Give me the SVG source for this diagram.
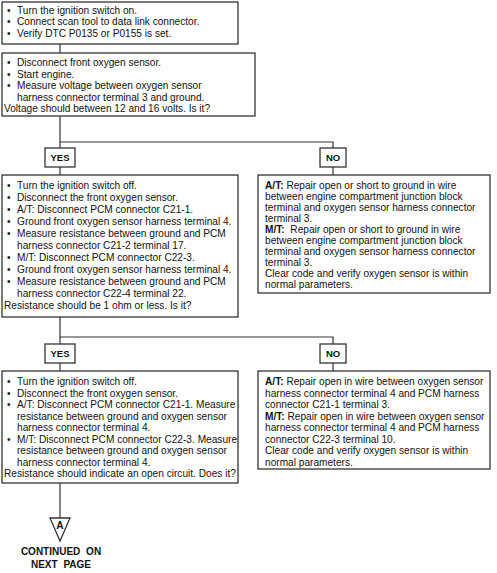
<svg xmlns="http://www.w3.org/2000/svg" width="497" height="573" viewBox="0 0 497 573">
<style>
.box{fill:#fff;stroke:#333;stroke-width:1.3}
.lbl{fill:#fff;stroke:#333;stroke-width:1.3}
.ln{fill:none;stroke:#333;stroke-width:1.2}
text{font-family:"Liberation Sans",Arial,sans-serif;font-size:10.15px;fill:#111}
.b{font-weight:bold}
.yn{font-weight:bold;font-size:9.5px;text-anchor:middle}
.ct{font-weight:bold;font-size:10px;text-anchor:middle;word-spacing:3px}
</style>
<rect width="497" height="573" fill="#fff"/>
<g id="connectors">
<path class="ln" d="M60,44V53"/>
<path class="ln" d="M60,116V142H333V148"/>
<path class="ln" d="M60,148V142"/>
<path class="ln" d="M60,167V175"/>
<path class="ln" d="M333,167V175"/>
<path class="ln" d="M60,317V337H333V344"/>
<path class="ln" d="M60,337V344"/>
<path class="ln" d="M60,363V371"/>
<path class="ln" d="M333,363V371"/>
<path class="ln" d="M60,483V518"/>
</g>
<g id="n1">
<rect class="box" x="2" y="2" width="236" height="42"/>
<text x="7" y="13.5">•<tspan x="17">Turn the ignition switch on.</tspan></text>
<text x="7" y="25">•<tspan x="17">Connect scan tool to data link connector.</tspan></text>
<text x="7" y="36.5">•<tspan x="17">Verify DTC P0135 or P0155 is set.</tspan></text>
</g>
<g id="n2">
<rect class="box" x="2" y="53" width="253" height="63"/>
<text x="7" y="66">•<tspan x="17">Disconnect front oxygen sensor.</tspan></text>
<text x="7" y="77.5">•<tspan x="17">Start engine.</tspan></text>
<text x="7" y="89">•<tspan x="17">Measure voltage between oxygen sensor</tspan></text>
<text x="17" y="100.5">harness connector terminal 3 and ground.</text>
<text x="4" y="112">Voltage should between 12 and 16 volts. Is it?</text>
</g>
<g id="yes1">
<rect class="lbl" x="45" y="148" width="30" height="19"/>
<text class="yn" x="60" y="161">YES</text>
</g>
<g id="no1">
<rect class="lbl" x="320" y="148" width="26" height="19"/>
<text class="yn" x="333" y="161">NO</text>
</g>
<g id="n3">
<rect class="box" x="2" y="175" width="236" height="142"/>
<text x="7" y="189">•<tspan x="17">Turn the ignition switch off.</tspan></text>
<text x="7" y="201">•<tspan x="17">Disconnect the front oxygen sensor.</tspan></text>
<text x="7" y="213">•<tspan x="17">A/T: Disconnect PCM connector C21-1.</tspan></text>
<text x="7" y="225">•<tspan x="17">Ground front oxygen sensor harness terminal 4.</tspan></text>
<text x="7" y="237">•<tspan x="17">Measure resistance between ground and PCM</tspan></text>
<text x="17" y="249">harness connector C21-2 terminal 17.</text>
<text x="7" y="261">•<tspan x="17">M/T: Disconnect PCM connector C22-3.</tspan></text>
<text x="7" y="273">•<tspan x="17">Ground front oxygen sensor harness terminal 4.</tspan></text>
<text x="7" y="285">•<tspan x="17">Measure resistance between ground and PCM</tspan></text>
<text x="17" y="297">harness connector C22-4 terminal 22.</text>
<text x="4" y="309">Resistance should be 1 ohm or less. Is it?</text>
</g>
<g id="n4">
<rect class="box" x="258" y="175" width="232" height="118"/>
<text x="265" y="189"><tspan class="b">A/T:</tspan> Repair open or short to ground in wire</text>
<text x="265" y="200">between engine compartment junction block</text>
<text x="265" y="211">terminal and oxygen sensor harness connector</text>
<text x="265" y="222">terminal 3.</text>
<text x="265" y="233" xml:space="preserve"><tspan class="b">M/T:</tspan>  Repair open or short to ground in wire</text>
<text x="265" y="244">between engine compartment junction block</text>
<text x="265" y="255">terminal and oxygen sensor harness connector</text>
<text x="265" y="266">terminal 3.</text>
<text x="265" y="277">Clear code and verify oxygen sensor is within</text>
<text x="265" y="288">normal parameters.</text>
</g>
<g id="yes2">
<rect class="lbl" x="45" y="344" width="30" height="19"/>
<text class="yn" x="60" y="357">YES</text>
</g>
<g id="no2">
<rect class="lbl" x="320" y="344" width="26" height="19"/>
<text class="yn" x="333" y="357">NO</text>
</g>
<g id="n5">
<rect class="box" x="2" y="371" width="236" height="112"/>
<text x="7" y="385">•<tspan x="17">Turn the ignition switch off.</tspan></text>
<text x="7" y="396.5">•<tspan x="17">Disconnect the front oxygen sensor.</tspan></text>
<text x="7" y="408">•<tspan x="17">A/T: Disconnect PCM connector C21-1. Measure</tspan></text>
<text x="17" y="419.5">resistance between ground and oxygen sensor</text>
<text x="17" y="431">harness connector terminal 4.</text>
<text x="7" y="442.5">•<tspan x="17">M/T: Disconnect PCM connector C22-3. Measure</tspan></text>
<text x="17" y="454">resistance between ground and oxygen sensor</text>
<text x="17" y="465.5">harness connector terminal 4.</text>
<text x="4" y="477">Resistance should indicate an open circuit. Does it?</text>
</g>
<g id="n6">
<rect class="box" x="258" y="371" width="232" height="98"/>
<text x="265" y="385"><tspan class="b">A/T:</tspan> Repair open in wire between oxygen sensor</text>
<text x="265" y="396.5">harness connector terminal 4 and PCM harness</text>
<text x="265" y="408">connector C21-1 terminal 3.</text>
<text x="265" y="419.5"><tspan class="b">M/T:</tspan> Repair open in wire between oxygen sensor</text>
<text x="265" y="431">harness connector terminal 4 and PCM harness</text>
<text x="265" y="442.5">connector C22-3 terminal 10.</text>
<text x="265" y="454">Clear code and verify oxygen sensor is within</text>
<text x="265" y="465.5">normal parameters.</text>
</g>
<g id="offpage">
<path d="M50,518H70L60,541Z" fill="#fff" stroke="#333" stroke-width="1.3"/>
<text class="b" x="60" y="529" text-anchor="middle" font-size="9">A</text>
<text class="ct" x="61" y="555">CONTINUED ON</text>
<text class="ct" x="61" y="568">NEXT PAGE</text>
</g>
</svg>
